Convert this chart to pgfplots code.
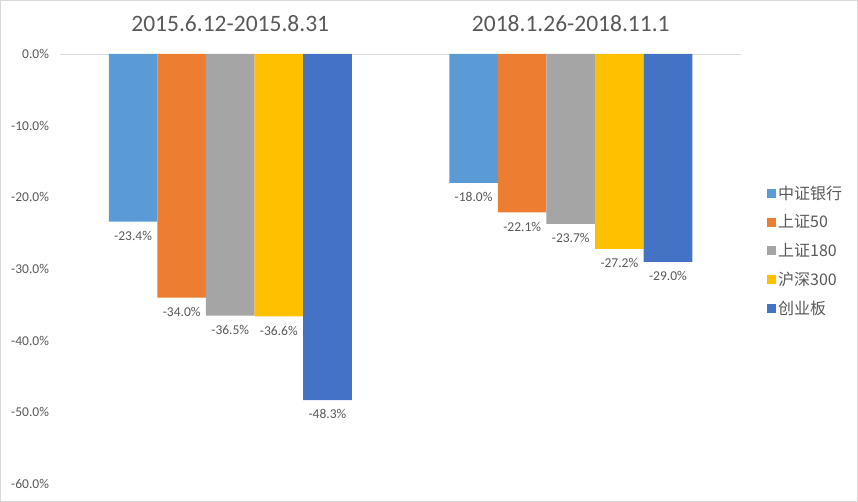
\documentclass[border=0pt]{standalone}
\usepackage{fontspec}
\setmainfont{Carlito}
\newfontfamily\cjk{Noto Sans CJK SC}
\usepackage{pgfplots}
\pgfplotsset{compat=1.18}

\definecolor{c1}{HTML}{5B9BD5}
\definecolor{c2}{HTML}{ED7D31}
\definecolor{c3}{HTML}{A5A5A5}
\definecolor{c4}{HTML}{FFC000}
\definecolor{c5}{HTML}{4472C4}
\definecolor{txt}{HTML}{595959}
\definecolor{frame}{HTML}{D9D9D9}

\begin{document}
\begin{tikzpicture}
\begin{axis}[
    at={(60pt,18pt)}, anchor=south west,
    scale only axis, width=681pt, height=430pt,
    xmin=-0.5, xmax=1.5, ymin=-60, ymax=0,
    ybar=0pt, bar width=48.6pt,
    clip=false,
    axis x line*=top, axis y line*=left,
    x axis line style={draw=frame, line width=0.8pt, -},
    y axis line style={draw=none},
    major tick length=0pt,
    xtick={0,1},
    xticklabels={2015.6.12-2015.8.31, 2018.1.26-2018.11.1},
    xticklabel pos=top,
    xticklabel style={anchor=base, yshift=22.3pt, text=txt,
        font=\fontsize{23.5}{28}\selectfont},
    ytick={-60,-50,-40,-30,-20,-10,0},
    yticklabels={-60.0\%,-50.0\%,-40.0\%,-30.0\%,-20.0\%,-10.0\%,0.0\%},
    yticklabel style={anchor=east, xshift=-7.5pt, text=txt,
        font=\fontsize{13.5}{16}\selectfont},
    point meta=explicit symbolic,
    nodes near coords,
    nodes near coords style={anchor=north, yshift=-6pt, text=txt,
        font=\fontsize{13.5}{16}\selectfont},
    legend image code/.code={\fill[#1] (0pt,-4.5pt) rectangle (9pt,4.5pt);},
    legend style={at={(1,0.542)}, anchor=west, xshift=23pt,
        draw=none, fill=none, text=txt,
        font=\cjk\fontsize{16}{19}\selectfont,
        row sep=10pt, cells={anchor=west}},
]
\addplot[fill=c1, draw=none] coordinates {(0,-23.4) [-23.4\%] (1,-18.0) [-18.0\%]};
\addplot[fill=c2, draw=none] coordinates {(0,-34.0) [-34.0\%] (1,-22.1) [-22.1\%]};
\addplot[fill=c3, draw=none] coordinates {(0,-36.5) [-36.5\%] (1,-23.7) [-23.7\%]};
\addplot[fill=c4, draw=none] coordinates {(0,-36.6) [-36.6\%] (1,-27.2) [-27.2\%]};
\addplot[fill=c5, draw=none] coordinates {(0,-48.3) [-48.3\%] (1,-29.0) [-29.0\%]};
\legend{中证银行, 上证50, 上证180, 沪深300, 创业板}
\end{axis}
\draw[frame, line width=1pt] (0.5pt,0.5pt) rectangle (857.5pt,501.5pt);
\pgfresetboundingbox
\useasboundingbox (0pt,0pt) rectangle (858pt,502pt);
\end{tikzpicture}
\end{document}
